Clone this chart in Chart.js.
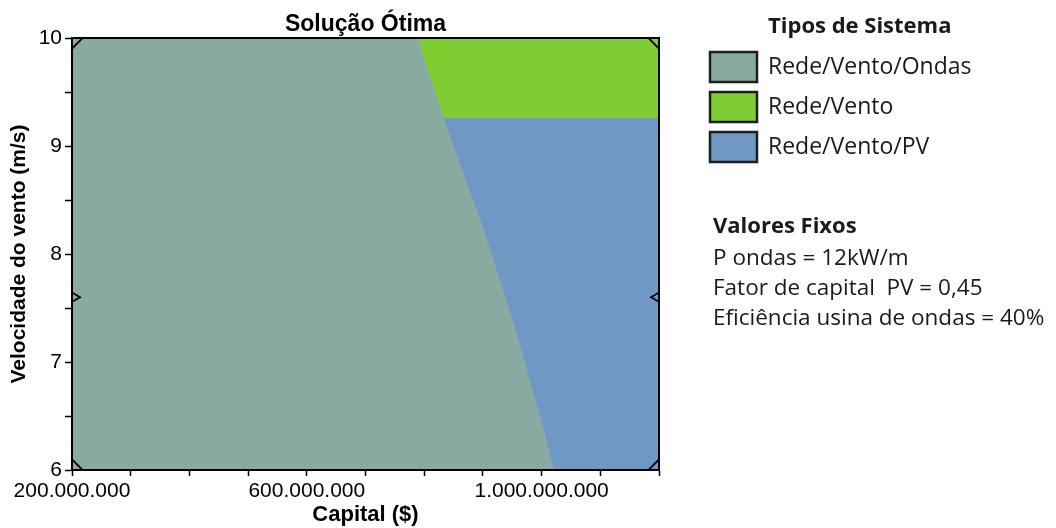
<!DOCTYPE html>
<html>
<head>
<meta charset="utf-8">
<script src="https://cdn.jsdelivr.net/npm/chart.js@4.4.1/dist/chart.umd.min.js"></script>
<style>
  html, body { margin: 0; padding: 0; background: #fff; }
  #wrap { width: 1056px; height: 528px; }
</style>
</head>
<body>
<div id="wrap"><canvas id="graficoSolucao"></canvas></div>
<script>
// limites dos eixos
const capitalMin = 200000000;
const capitalMax = 1200000000;
const ventoMin = 6;
const ventoMax = 10;

// fronteira da região Rede/Vento/Ondas
const fronteiraCapital = [200000000, 789000000, 833000000, 902000000, 956000000, 1004000000, 1021000000];
const fronteiraVento = [10, 10, 9.26, 8.22, 7.30, 6.37, 6];

// velocidade que separa Rede/Vento (acima) de Rede/Vento/PV (abaixo)
const limiteVentoPV = 9.26;

const tiposSistema = ['Rede/Vento/Ondas', 'Rede/Vento', 'Rede/Vento/PV'];
const coresSistema = ['#88aaa1', '#80cc33', '#6f99c4'];

const valoresFixos = ['P ondas = 12kW/m', 'Fator de capital  PV = 0,45', 'Eficiência usina de ondas = 40%'];

// marcadores nos cantos e no meio das bordas
const marcadorCapital = [200000000, 1200000000, 200000000, 1200000000, 200000000, 1200000000];
const marcadorVento = [10, 10, 6, 6, 7.6, 7.6];

function formatarCapital(v) {
    return String(Math.round(v)).replace(/\B(?=(\d{3})+(?!\d))/g, '.');
}

const fonteEixo = '"Liberation Sans", Arial, sans-serif';
const fonteLegenda = '"Open Sans", Lato, sans-serif';

// moldura em volta da área do gráfico
const molduraPlugin = {
    id: 'moldura',
    afterDatasetsDraw(chart) {
        const { ctx, chartArea: a } = chart;
        ctx.save();
        ctx.strokeStyle = '#000';
        ctx.lineWidth = 2;
        ctx.strokeRect(a.left, a.top, a.right - a.left, a.bottom - a.top);
        ctx.restore();
    }
};

// título, legenda e valores fixos
const textosPlugin = {
    id: 'textos',
    afterDraw(chart) {
        const { ctx, chartArea: a } = chart;
        ctx.save();
        ctx.fillStyle = '#000';
        ctx.textBaseline = 'alphabetic';

        ctx.textAlign = 'center';
        ctx.font = 'bold 23px ' + fonteEixo;
        ctx.fillText('Solução Ótima', (a.left + a.right) / 2, 31);

        ctx.textAlign = 'left';
        const x0 = a.right + 51;
        ctx.fillStyle = '#1a1a1a';
        ctx.font = 'bold 22px ' + fonteLegenda;
        ctx.fillText('Tipos de Sistema', x0 + 58, 33);

        ctx.font = '23px ' + fonteLegenda;
        tiposSistema.forEach(function (nome, i) {
            const y = 52 + i * 40;
            ctx.fillStyle = coresSistema[i];
            ctx.fillRect(x0, y, 47, 30);
            ctx.strokeStyle = '#1e1e1e';
            ctx.lineWidth = 2.5;
            ctx.strokeRect(x0, y, 47, 30);
            ctx.fillStyle = '#1a1a1a';
            ctx.fillText(nome, x0 + 58, y + 22);
        });

        ctx.font = 'bold 22px ' + fonteLegenda;
        ctx.fillText('Valores Fixos', x0 + 3, 233);
        ctx.font = '22.5px ' + fonteLegenda;
        valoresFixos.forEach(function (linha, i) {
            ctx.fillText(linha, x0 + 3, 265 + i * 30);
        });
        ctx.restore();
    }
};

const ctx = document.getElementById('graficoSolucao');

new Chart(ctx, {
    type: 'line',
    data: {
        datasets: [
            {
                label: tiposSistema[0],
                data: fronteiraCapital.map((x, i) => ({ x: x, y: fronteiraVento[i] })),
                backgroundColor: coresSistema[0],
                borderColor: 'rgba(0,0,0,0)',
                fill: { value: ventoMin },
                pointRadius: 0,
                tension: 0
            },
            {
                label: tiposSistema[1],
                data: [{ x: capitalMin, y: ventoMax }, { x: capitalMax, y: ventoMax }],
                backgroundColor: coresSistema[1],
                borderColor: 'rgba(0,0,0,0)',
                fill: { value: limiteVentoPV },
                pointRadius: 0
            },
            {
                label: tiposSistema[2],
                data: [{ x: capitalMin, y: limiteVentoPV }, { x: capitalMax, y: limiteVentoPV }],
                backgroundColor: coresSistema[2],
                borderColor: 'rgba(0,0,0,0)',
                fill: { value: ventoMin },
                pointRadius: 0
            },
            {
                label: 'marcadores',
                type: 'scatter',
                order: -1,
                data: marcadorCapital.map((x, i) => ({ x: x, y: marcadorVento[i] })),
                pointStyle: 'triangle',
                pointRadius: [15, 15, 15, 15, 8, 8],
                pointRotation: [315, 45, 225, 135, 90, 270],
                pointBackgroundColor: 'rgba(0,0,0,0)',
                pointBorderColor: '#000',
                pointBorderWidth: 1.8
            }
        ]
    },
    options: {
        responsive: true,
        maintainAspectRatio: false,
        animation: false,
        layout: {
            padding: { top: 38, right: 397, bottom: 0, left: 0 }
        },
        plugins: {
            legend: { display: false },
            title: { display: false },
            tooltip: { enabled: false }
        },
        scales: {
            x: {
                type: 'linear',
                min: capitalMin,
                max: capitalMax,
                afterFit: function (scale) { scale.height = 58; },
                ticks: {
                    stepSize: 100000000,
                    autoSkip: false,
                    maxRotation: 0,
                    padding: 3,
                    color: '#000',
                    font: { family: fonteEixo, size: 21 },
                    callback: function (value) {
                        return Math.round(value / 100000000) % 4 === 2 ? formatarCapital(value) : '';
                    }
                },
                grid: { drawOnChartArea: false, tickLength: 6, color: '#000', tickWidth: 1.5 },
                border: { display: true, color: '#000', width: 2 },
                title: {
                    display: true,
                    text: 'Capital ($)',
                    color: '#000',
                    font: { family: fonteEixo, size: 22, weight: 'bold' },
                    padding: { top: 0, bottom: 0 }
                }
            },
            y: {
                type: 'linear',
                min: ventoMin,
                max: ventoMax,
                afterFit: function (scale) { scale.width = 72; },
                ticks: {
                    stepSize: 0.5,
                    padding: 3,
                    color: '#000',
                    font: { family: fonteEixo, size: 21 },
                    callback: function (value) {
                        return Number.isInteger(value) ? String(value) : '';
                    }
                },
                grid: { drawOnChartArea: false, tickLength: 7, color: '#000', tickWidth: 1.5 },
                border: { display: true, color: '#000', width: 2 },
                title: {
                    display: true,
                    text: 'Velocidade do vento (m/s)',
                    color: '#000',
                    font: { family: fonteEixo, size: 21, weight: 'bold' },
                    padding: { top: 7, bottom: 0 }
                }
            }
        }
    },
    plugins: [molduraPlugin, textosPlugin]
});
</script>
</body>
</html>
